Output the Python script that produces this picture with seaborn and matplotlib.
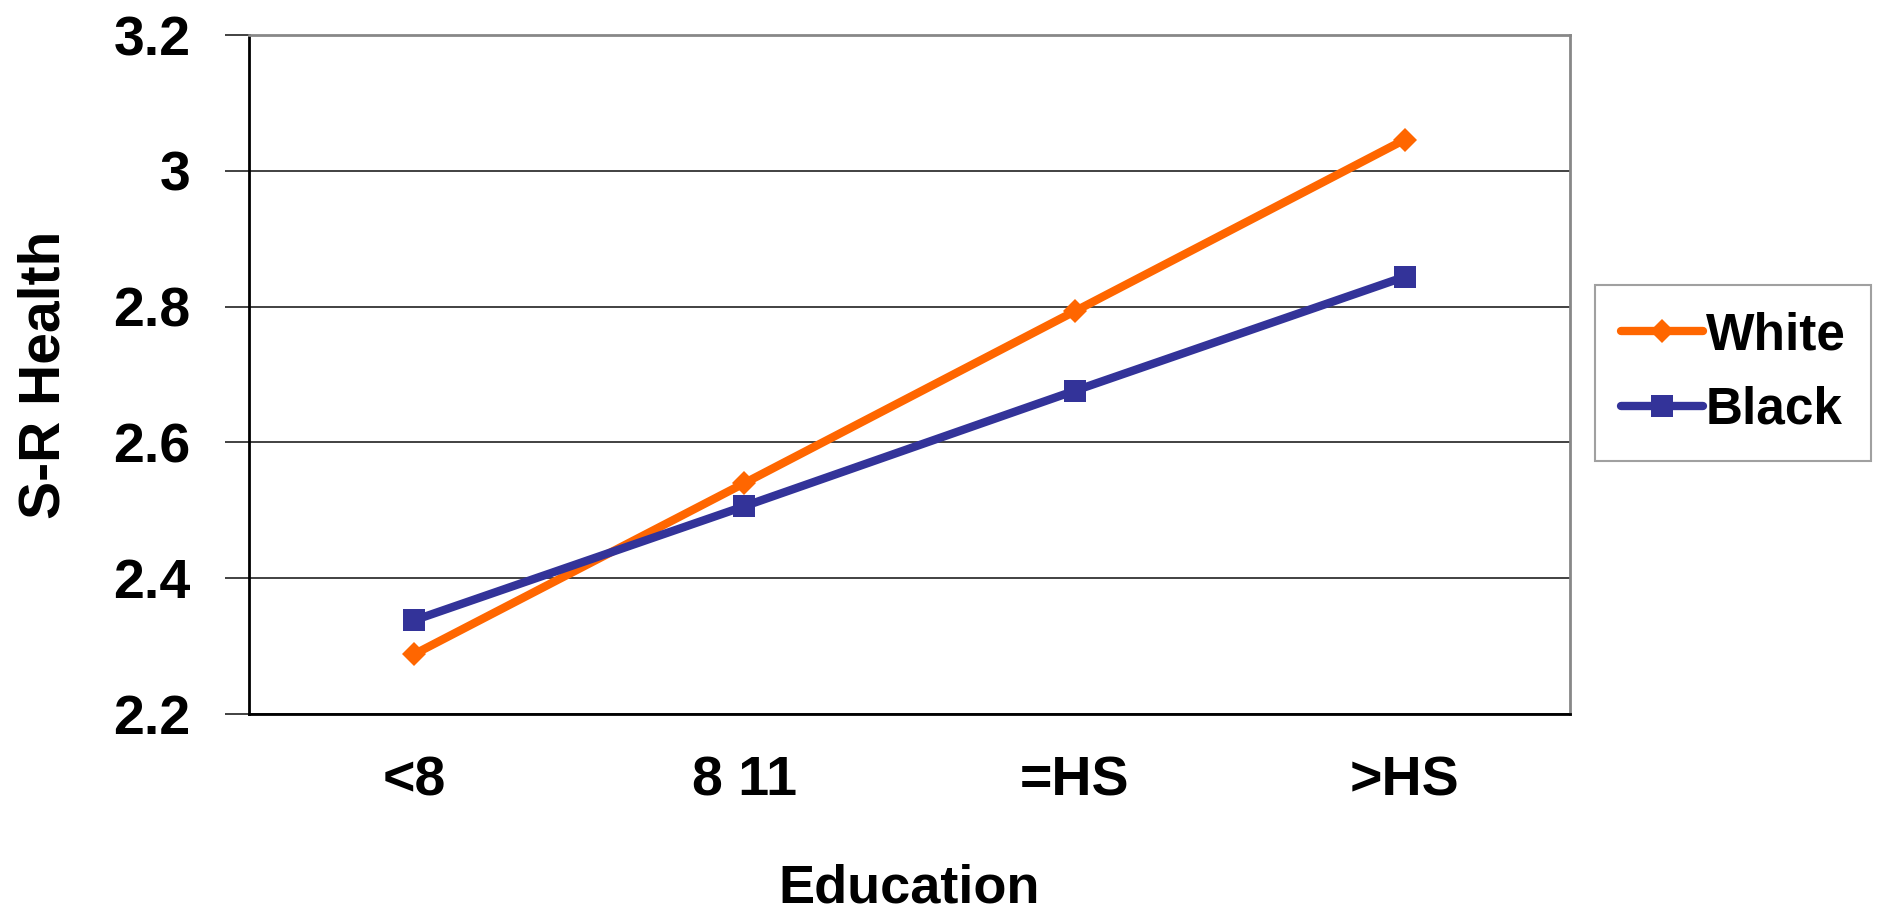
import matplotlib
matplotlib.use("Agg")
import matplotlib.pyplot as plt
import seaborn as sns
import pandas as pd
from matplotlib.ticker import FixedLocator, NullFormatter

categories = ["<8", "8 11", "=HS", ">HS"]
white = [2.288, 2.540, 2.793, 3.046]
black = [2.338, 2.506, 2.676, 2.844]
y_ticks = [2.2, 2.4, 2.6, 2.8, 3.0, 3.2]
y_tick_labels = ["2.2", "2.4", "2.6", "2.8", "3", "3.2"]

df = pd.DataFrame({
    "pos": list(range(len(categories))) * 2,
    "value": white + black,
    "group": ["White"] * len(white) + ["Black"] * len(black),
})

sns.set_style("white")
plt.rcParams["font.family"] = ["Liberation Sans", "DejaVu Sans"]
plt.rcParams["font.weight"] = "bold"
plt.rcParams["text.color"] = "black"
plt.rcParams["axes.labelcolor"] = "black"
plt.rcParams["xtick.color"] = "black"
plt.rcParams["ytick.color"] = "black"

fig = plt.figure(figsize=(18.77, 9.13), dpi=100)
ax = fig.add_axes([249 / 1877, 1 - 714 / 913, (1570 - 249) / 1877, (714 - 35) / 913])

palette = {"White": "#FF6600", "Black": "#333399"}
markers = {"White": "D", "Black": "s"}
LW = 6
SQ = 16.5
DM = 12
sns.lineplot(data=df, x="pos", y="value", hue="group", style="group",
             palette=palette, markers=markers, dashes=False, linewidth=LW,
             markersize=SQ, markeredgewidth=0, ax=ax, legend=False)
for line in ax.get_lines():
    if line.get_marker() == "D":
        line.set_markersize(DM)

ax.set_xlim(-0.5, 3.5)
ax.set_ylim(2.2, 3.2)
ax.set_yticks(y_ticks)
ax.set_yticklabels(y_tick_labels, fontsize=40, fontweight="bold")
ax.yaxis.grid(True, color="#333333", linewidth=1.3)
ax.set_axisbelow(True)

# category labels centred, tick marks on category boundaries
ax.xaxis.set_major_locator(FixedLocator([-0.5, 0.5, 1.5, 2.5, 3.5]))
ax.xaxis.set_major_formatter(NullFormatter())
ax.xaxis.set_minor_locator(FixedLocator(range(len(categories))))
ax.set_xticklabels(categories, minor=True, fontsize=40, fontweight="bold")
ax.tick_params(axis="x", which="minor", length=0, pad=30)
ax.tick_params(axis="x", which="major", direction="out", length=17, width=1.3, color="black")
ax.tick_params(axis="y", direction="out", length=17, width=1.3, color="#333333", pad=25, left=True)

for side in ["top", "right"]:
    ax.spines[side].set_color("#888888")
    ax.spines[side].set_linewidth(2)
for side in ["left", "bottom"]:
    ax.spines[side].set_color("black")
    ax.spines[side].set_linewidth(2)

ax.set_xlabel("Education", fontsize=39, fontweight="bold", labelpad=40)
ax.set_ylabel("S-R Health", fontsize=41, fontweight="bold", labelpad=30)

handles = [
    plt.Line2D([], [], color="#FF6600", marker="D", markersize=DM, linewidth=LW, markeredgewidth=0),
    plt.Line2D([], [], color="#333399", marker="s", markersize=SQ, linewidth=LW, markeredgewidth=0),
]
leg = fig.legend(handles, ["White", "Black"], loc="center",
                 bbox_to_anchor=(1733 / 1877, 1 - 373 / 913),
                 prop={"size": 37, "weight": "bold"}, frameon=True, fancybox=False,
                 handlelength=1.6, handletextpad=0.05, labelspacing=0.5,
                 borderpad=0.5, borderaxespad=0, edgecolor="#888888")
leg.get_frame().set_linewidth(1.5)

fig.savefig("out.png", dpi=100)
